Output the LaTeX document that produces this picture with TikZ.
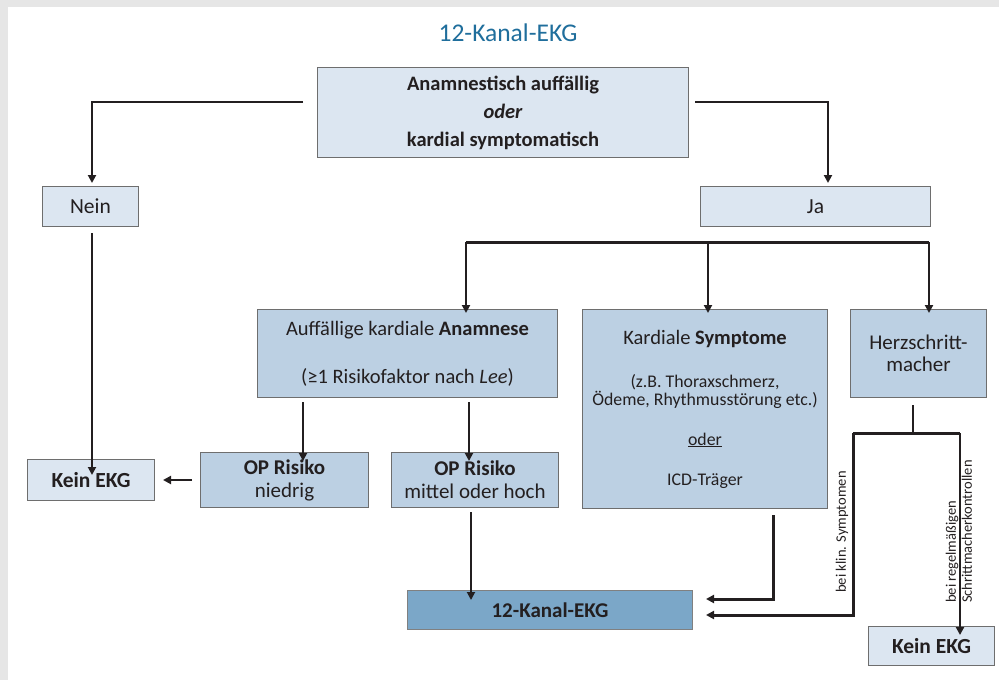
\documentclass[tikz,border=0pt]{standalone}
\usepackage{fontspec}
\setmainfont{Carlito}
\usetikzlibrary{arrows.meta,calc}
\definecolor{bggrey}{HTML}{E6E6E6}
\definecolor{lightfill}{HTML}{DCE6F1}
\definecolor{midfill}{HTML}{BCD0E3}
\definecolor{darkfill}{HTML}{7BA7C8}
\definecolor{bordercol}{HTML}{6E6E6E}
\definecolor{titlecol}{HTML}{1F6E9C}
\definecolor{textcol}{HTML}{231F20}
\newcommand\smallfs{\fontsize{17.8}{18}\selectfont}
\begin{document}
\begin{tikzpicture}[x=1pt,y=-1pt,
  font=\fontsize{20.5}{23}\selectfont,
  box/.style={draw=bordercol,line width=1pt,inner sep=0pt,align=center,text=textcol,anchor=north west},
  lightbox/.style={box,fill=lightfill},
  midbox/.style={box,fill=midfill},
  darkbox/.style={box,fill=darkfill},
  conn/.style={draw=textcol,line width=1.8pt},
  bus/.style={draw=textcol,line width=3pt},
  arr/.style={-{Triangle[length=8pt,width=8pt]}},
  rot/.style={rotate=90,font=\fontsize{14.5}{16}\selectfont,text=textcol,inner sep=0pt}
]
\useasboundingbox (0,0) rectangle (999,680);
\fill[bggrey] (0,0) rectangle (999,680);
\fill[white] (8,7) rectangle (999,680);

\node[text=titlecol,font=\fontsize{25.5}{28}\selectfont] (title) at (508,33) {12-Kanal-EKG};

\node[lightbox,minimum width=371pt,minimum height=90pt] (main) at (317,67)
  {\bfseries Anamnestisch auffällig\\[5pt]\bfseries\itshape oder\\[5pt]\bfseries kardial symptomatisch};
\node[lightbox,minimum width=96pt,minimum height=40pt,font=\fontsize{21.5}{23}\selectfont] (nein) at (42,186) {Nein};
\node[lightbox,minimum width=230pt,minimum height=40pt,font=\fontsize{21.5}{23}\selectfont] (ja) at (700,186) {Ja};
\node[midbox,minimum width=300pt,minimum height=88pt] (anam) at (257,309)
  {Auffällige kardiale \textbf{Anamnese}\\[25pt](≥1 Risikofaktor nach \textit{Lee})};
\node[midbox,minimum width=245pt,minimum height=199pt] (sympt) at (582,309)
  {Kardiale \textbf{Symptome}\\[20pt]\smallfs (z.B. Thoraxschmerz,\\[-5pt]\smallfs Ödeme, Rhythmusstörung etc.)\\[17pt]\smallfs\underline{oder}\\[17pt]\smallfs ICD-Träger};
\node[midbox,minimum width=136pt,minimum height=88pt,font=\fontsize{21}{22}\selectfont] (herz) at (850,309) {Herzschritt-\\macher};
\node[midbox,minimum width=168pt,minimum height=55pt,font=\fontsize{21}{23}\selectfont] (niedrig) at (200,452) {\textbf{OP Risiko}\\niedrig};
\node[midbox,minimum width=167pt,minimum height=55pt,font=\fontsize{21}{23}\selectfont] (mittel) at (391,452) {\textbf{OP Risiko}\\mittel oder hoch};
\node[lightbox,minimum width=127pt,minimum height=41pt,font=\fontsize{21.5}{23}\selectfont] (keinL) at (27,459) {\textbf{Kein EKG}};
\node[darkbox,minimum width=285pt,minimum height=39pt,draw=gray,font=\fontsize{21}{23}\selectfont] (ekg) at (407,590) {\textbf{12-Kanal-EKG}};
\node[lightbox,minimum width=126pt,minimum height=39pt,font=\fontsize{21.5}{23}\selectfont] (keinR) at (868,626) {\textbf{Kein EKG}};

% coordinates
\coordinate (mL) at (303,102);
\coordinate (mR) at (695,102);
\coordinate (neinT) at (92,183);
\coordinate (jaT) at (828,183);
\coordinate (busL) at (466,242);
\coordinate (busM) at (708,242);
\coordinate (busR) at (929,242);
\coordinate (aL) at (303,402);
\coordinate (aR) at (469,402);
\coordinate (nB) at (92,233);
\coordinate (nE) at (192,480);
\coordinate (mB) at (471,512);
\coordinate (sB) at (773,515);
\coordinate (hB) at (913,405);
\coordinate (hM) at (913,433);
\coordinate (hL) at (853,433);
\coordinate (hR) at (960,433);
\coordinate (y1) at (0,599);
\coordinate (y2) at (0,615);

\draw[conn,line width=2.3pt,arr] (mL) -| (neinT);
\draw[conn,line width=2.3pt,arr] (mR) -| (jaT);

\draw[bus] (busL) -- (busR);
\draw[conn,line width=2.5pt,arr] (busL) -- ([yshift=-4pt]busL |- anam.north);
\draw[conn,line width=2.5pt,arr] (busM) -- ([yshift=-4pt]busM |- sympt.north);
\draw[conn,line width=2.5pt,arr] (busR) -- ([yshift=-4pt]busR |- herz.north);

\draw[conn,arr] (aL) -- ([yshift=-9pt]aL |- niedrig.north);
\draw[conn,arr] (aR) -- ([yshift=-9pt]aR |- mittel.north);
\draw[conn,arr] (nB) -- ([yshift=-16pt]nB |- keinL.north);
\draw[conn,line width=2.3pt,arr] (nE) -- ([xshift=8pt]keinL.east |- nE);
\draw[conn,arr] (mB) -- ([yshift=-10pt]mB |- ekg.north);

\draw[bus,arr] (sB) |- ([xshift=13pt]ekg.east |- y1);
\draw[conn] (hB) -- (hM);
\draw[bus] (hL) -- (hR);
\draw[bus,arr] (hL) |- ([xshift=13pt]ekg.east |- y2);
\draw[conn,line width=2.3pt,arr] (hR) -- ([yshift=-9pt]hR |- keinR.north);

\node[rot] (klin) at (842,532) {bei klin. Symptomen};
\node[rot,align=left,anchor=west] (regel) at (959,603) {bei regelmäßigen\\Schrittmacherkontrollen};
\end{tikzpicture}
\end{document}
